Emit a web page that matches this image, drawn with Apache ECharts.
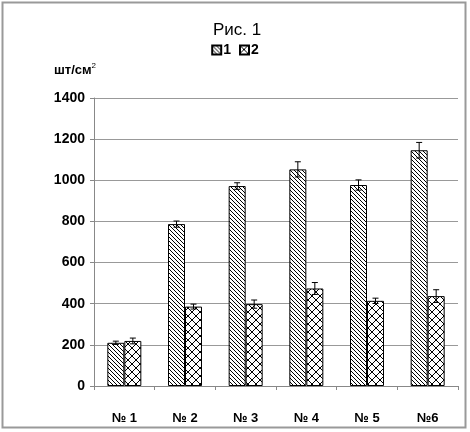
<!DOCTYPE html>
<html><head><meta charset="utf-8">
<script src="https://cdn.jsdelivr.net/npm/echarts@6/dist/echarts.min.js"></script>
<style>html,body{margin:0;padding:0;background:#fff}#c{width:470px;height:432px}</style>
</head><body><div id="c"></div>
<script>
var categories = ['№ 1', '№ 2', '№ 3', '№ 4', '№ 5', '№6'];
var series1 = [210, 787, 972, 1053, 977, 1146];
var series2 = [219, 386, 398, 474, 414, 437];
var err1 = [8, 15, 16, 37, 25, 38];
var err2 = [14, 12, 20, 29, 13, 31];
var yTicks = [0, 200, 400, 600, 800, 1000, 1200, 1400];

function makePattern(type) {
  var c = document.createElement('canvas');
  var ctx = c.getContext('2d');
  if (type === 'diag') {
    c.width = 4; c.height = 4;
    ctx.fillStyle = '#fff'; ctx.fillRect(0, 0, 4, 4);
    ctx.strokeStyle = '#000'; ctx.lineWidth = 1;
    ctx.beginPath();
    ctx.moveTo(-1, -1); ctx.lineTo(5, 5);
    ctx.moveTo(-1, 3); ctx.lineTo(1, 5);
    ctx.moveTo(3, -1); ctx.lineTo(5, 1);
    ctx.stroke();
  } else {
    c.width = 8; c.height = 8;
    ctx.fillStyle = '#fff'; ctx.fillRect(0, 0, 8, 8);
    ctx.strokeStyle = '#000'; ctx.lineWidth = 1;
    ctx.beginPath();
    ctx.moveTo(0, 0); ctx.lineTo(8, 8);
    ctx.moveTo(8, 0); ctx.lineTo(0, 8);
    ctx.stroke();
  }
  return c;
}
var pat1 = { image: makePattern('diag'), repeat: 'repeat' };
var pat2 = { image: makePattern('cross'), repeat: 'repeat' };

var chart = echarts.init(document.getElementById('c'), null, { renderer: 'canvas' });
var labelFont = '"Liberation Sans", Arial, sans-serif';

function errRender(errs, vals, offset) {
  return function (params, api) {
    var i = api.value(0);
    var v = vals[i], e = errs[i];
    var top = api.coord([i, v + e]);
    var bot = api.coord([i, v - e]);
    var x = top[0] + offset;
    var cw = 3;
    return {
      type: 'group',
      children: [
        { type: 'line', shape: { x1: x, y1: top[1], x2: x, y2: bot[1] }, style: { stroke: '#000', lineWidth: 1 } },
        { type: 'line', shape: { x1: x - cw, y1: top[1], x2: x + cw, y2: top[1] }, style: { stroke: '#000', lineWidth: 1 } },
        { type: 'line', shape: { x1: x - cw, y1: bot[1], x2: x + cw, y2: bot[1] }, style: { stroke: '#000', lineWidth: 1 } }
      ]
    };
  };
}

var option = {
  animation: false,
  backgroundColor: '#fff',
  title: {
    text: 'Рис. 1',
    left: 232, top: 17, textAlign: 'center',
    textStyle: { fontFamily: labelFont, fontSize: 17, fontWeight: 'normal', color: '#000' }
  },
  legend: {
    data: ['1', '2'],
    left: 'center', top: 38,
    icon: 'rect',
    itemWidth: 9, itemHeight: 9, itemGap: 8,
    textStyle: { fontFamily: labelFont, fontSize: 14, fontWeight: 'bold', color: '#000', padding: [0, 0, 0, -3] }
  },
  grid: { left: 94, right: 12, top: 98, bottom: 46 },
  xAxis: {
    type: 'category',
    data: categories,
    axisLine: { lineStyle: { color: '#888' } },
    axisTick: { show: true, length: 4, lineStyle: { color: '#888' } },
    axisLabel: { margin: 26, fontFamily: labelFont, fontSize: 13, fontWeight: 'bold', color: '#000' }
  },
  yAxis: {
    type: 'value',
    min: yTicks[0], max: yTicks[yTicks.length - 1], interval: 200,
    name: '{a|шт/см}{b|2}',
    nameLocation: 'end',
    nameGap: 20,
    nameTextStyle: {
      align: 'center',
      padding: [0, 0, 0, -38],
      rich: {
        a: { fontFamily: labelFont, fontSize: 13, fontWeight: 'bold', color: '#000' },
        b: { fontFamily: labelFont, fontSize: 8, color: '#000', verticalAlign: 'top', padding: [0, 0, 8, 0] }
      }
    },
    axisLine: { show: true, lineStyle: { color: '#888' } },
    axisTick: { show: true, length: 4, lineStyle: { color: '#888' } },
    splitLine: { lineStyle: { color: '#999' } },
    axisLabel: {
      margin: 9, fontFamily: labelFont, fontSize: 14, fontWeight: 'bold', color: '#000',
      formatter: function (v) { return String(v); }
    }
  },
  series: [
    { name: '1', type: 'bar', data: series1, barWidth: 17, barGap: '0%',
      itemStyle: { color: pat1, borderColor: '#000', borderWidth: 1 } },
    { name: '2', type: 'bar', data: series2, barWidth: 17, barGap: '0%',
      itemStyle: { color: pat2, borderColor: '#000', borderWidth: 1 } },
    { type: 'custom', data: categories.map(function (c, i) { return [i]; }),
      renderItem: errRender(err1, series1, -8.5), z: 10, silent: true },
    { type: 'custom', data: categories.map(function (c, i) { return [i]; }),
      renderItem: errRender(err2, series2, 8.5), z: 10, silent: true }
  ],
  graphic: [
    { type: 'rect', shape: { x: 2.5, y: 2.5, width: 463, height: 425 },
      style: { fill: 'none', stroke: '#999', lineWidth: 2 }, silent: true }
  ]
};
chart.setOption(option);
</script>
</body></html>
